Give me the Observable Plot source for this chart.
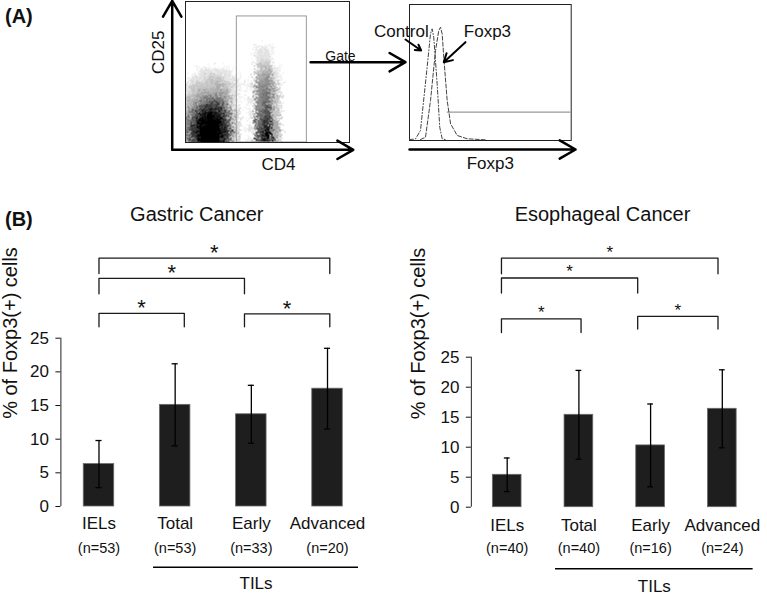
<!DOCTYPE html>
<html><head><meta charset="utf-8">
<script src="https://cdn.jsdelivr.net/npm/d3@7"></script>
<script src="https://cdn.jsdelivr.net/npm/@observablehq/plot@0.6"></script>
<style>
body{margin:0;background:#fff;}
#wrap{position:relative;width:767px;height:596px;overflow:hidden;font-family:"Liberation Sans",Arial,sans-serif;color:#111;}
.pane{position:absolute;}
.tag{position:absolute;font-weight:bold;font-size:20px;line-height:20px;}
</style></head><body>
<div id="wrap">
  <div class="tag" style="left:5px;top:6px">(A)</div>
  <div class="tag" style="left:5px;top:209px">(B)</div>
</div>
<script>
// ---------- Panel B data ----------
const categories = ["IELs", "Total", "Early", "Advanced"];
const groupMembers = ["Total", "Early", "Advanced"];
const groupLabel = "TILs";
const yLabel = "% of Foxp3(+) cells";
const yTicks = [0, 5, 10, 15, 20, 25];
const significance = "*";

const gastricTitle = "Gastric Cancer";
const gastricN = ["(n=53)", "(n=53)", "(n=33)", "(n=20)"];
const gastricMean = [6.3, 15.1, 13.7, 17.5];
const gastricSD = [3.5, 6.1, 4.3, 6.0];

const esoTitle = "Esophageal Cancer";
const esoN = ["(n=40)", "(n=40)", "(n=16)", "(n=24)"];
const esoMean = [5.4, 15.4, 10.3, 16.4];
const esoSD = [2.8, 7.4, 6.9, 6.5];

// significance brackets: pairs compared, bracket ends (category position), bar level, foot level
const comparisons = [["IELs", "Advanced"], ["IELs", "Early"], ["IELs", "Total"], ["Early", "Advanced"]];
const gastricBracketStart = [0.0, 0.0, 0.0, 1.91];
const gastricBracketEnd = [3.03, 1.91, 1.12, 3.03];
const gastricBracketLevel = [36.9, 33.9, 28.7, 28.6];
const gastricBracketFoot = [34.6, 31.6, 26.7, 26.7];
const esoBracketStart = [-0.08, -0.08, -0.08, 1.82];
const esoBracketEnd = [2.94, 1.82, 1.03, 2.94];
const esoBracketLevel = [41.5, 38.2, 31.4, 31.8];
const esoBracketFoot = [38.9, 35.7, 29.1, 29.7];

// ---------- Panel A data ----------
// CD4 x CD25 dot-plot density (0 = empty, 9 = saturated), rows from CD25 = 70 down to 0
const cd4Values = [0, 5, 10, 15, 20, 25, 30, 35, 40, 45, 50, 55, 60, 65, 70, 75, 80, 85, 90, 95, 100];
const cd25Values = [70, 65, 60, 55, 50, 45, 40, 35, 30, 25, 20, 15, 10, 5, 0];
const densityRows = [
  "000000000000000000000",
  "000000000110000000000",
  "000000000110000000000",
  "000000000220000000000",
  "001111000231000000000",
  "011221100341000000000",
  "122232101442000000000",
  "123333100452000000000",
  "234553101452000000000",
  "246774100462000000000",
  "358985201562000000000",
  "469996200573000000000",
  "479997201683000000000",
  "479997200693000000000",
  "369996201683000000000"
];
const gateCD4 = [31.3, 74.0];
const gateCD25 = [0, 89.4];

// Foxp3 histograms (intensity 0-100, count 0-100)
const controlIntensity = [0, 3.7, 6.8, 10.9, 13.0, 14.0, 15.0, 17.1, 18.7, 20.2, 22.9];
const controlCount = [0.7, 1.1, 7.4, 53.9, 78.5, 82.1, 75.9, 41.7, 9.8, 1.25, 0.4];
const foxp3Intensity = [6.8, 9.9, 13.0, 16.1, 18.1, 19.2, 20.2, 21.2, 23.3, 25.4, 29.5, 35.7, 47.0];
const foxp3Count = [0.7, 2.4, 29.4, 66.2, 80.9, 83.3, 78.4, 61.2, 29.4, 12.3, 3.7, 1.25, 0.5];
const histGateStart = 23.3;
const histGateLevel = 20.8;

// ---------- helpers ----------
const FONT = "'Liberation Sans', Arial, Helvetica, sans-serif";
const wrap = document.getElementById("wrap");
function place(node, left, top) {
  const d = document.createElement("div");
  d.className = "pane";
  d.style.left = left + "px";
  d.style.top = top + "px";
  d.appendChild(node);
  wrap.appendChild(d);
}
const baseStyle = {background: "transparent", overflow: "visible", fontFamily: FONT, fontSize: "17px", color: "#111"};

// ---------- Panel A: dot plot ----------
const dens = [];
densityRows.forEach((row, r) => [...row].forEach((ch, c) => dens.push({cd4: cd4Values[c], cd25: cd25Values[r], d: +ch})));

const dotPlot = Plot.plot({
  width: 280, height: 180, marginLeft: 45, marginRight: 71, marginTop: 1, marginBottom: 38,
  x: {domain: [0, 100], axis: null},
  y: {domain: [0, 100], axis: null},
  color: {type: "linear", domain: [0, 9], range: ["#ffffff", "#000000"]},
  style: baseStyle,
  marks: [
    Plot.raster(dens, {x: "cd4", y: "cd25", fill: "d", interpolate: "random-walk"}),
    Plot.rect([{}], {x1: gateCD4[0], x2: gateCD4[1], y1: gateCD25[0], y2: gateCD25[1], fill: "none", stroke: "#999", strokeWidth: 1}),
    Plot.frame({stroke: "#222", strokeWidth: 1}),
    Plot.arrow([{x1: -8.1, y1: -5.2, x2: -8.1, y2: 100.5}, {x1: -8.1, y1: -5.2, x2: 102.3, y2: -5.2}],
      {x1: "x1", y1: "y1", x2: "x2", y2: "y2", stroke: "#000", strokeWidth: 2.5, headLength: 11}),
    Plot.text(["CD25"], {frameAnchor: "left", dx: -27, dy: 2, rotate: -90, fontSize: 17, lineAnchor: "middle"}),
    Plot.text(["CD4"], {frameAnchor: "bottom", dx: 11, dy: 22, fontSize: 17, lineAnchor: "middle"})
  ]
});
place(dotPlot, 140, 0);

// ---------- Panel A: histogram ----------
const control = controlIntensity.map((x, i) => ({x, y: controlCount[i]}));
const foxp3 = foxp3Intensity.map((x, i) => ({x, y: foxp3Count[i]}));
const histPlot = Plot.plot({
  width: 290, height: 180, marginLeft: 109, marginRight: 19.3, marginTop: 4, marginBottom: 40,
  x: {domain: [0, 100], axis: null},
  y: {domain: [0, 100], axis: null},
  style: baseStyle,
  marks: [
    Plot.frame({stroke: "#222", strokeWidth: 1}),
    Plot.ruleY([histGateLevel], {x1: histGateStart, x2: 100, stroke: "#999", strokeWidth: 1.2}),
    Plot.line(control, {x: "x", y: "y", stroke: "#444", strokeWidth: 1, strokeDasharray: "4,2,1,2"}),
    Plot.line(foxp3, {x: "x", y: "y", stroke: "#444", strokeWidth: 1, strokeDasharray: "4,2"}),
    Plot.arrow([{x1: 0, y1: -6.6, x2: 102.7, y2: -6.6}], {x1: "x1", y1: "y1", x2: "x2", y2: "y2", stroke: "#000", strokeWidth: 2.5, headLength: 11}),
    Plot.arrow([{x1: -61.2, y1: 57.6, x2: -2.5, y2: 57.6}], {x1: "x1", y1: "y1", x2: "x2", y2: "y2", stroke: "#000", strokeWidth: 2.5, headLength: 11}),
    Plot.arrow([{x1: -2.5, y1: 74.3, x2: 7.2, y2: 66.2}, {x1: 34.6, y1: 72.3, x2: 21.2, y2: 57.6}],
      {x1: "x1", y1: "y1", x2: "x2", y2: "y2", stroke: "#000", strokeWidth: 2, headLength: 7}),
    Plot.text(["Gate"], {x: -42.7, y: 58.1, fontSize: 14, lineAnchor: "bottom"}),
    Plot.text(["Control"], {x: 11.9, y: 76, fontSize: 17, lineAnchor: "bottom", textAnchor: "end"}),
    Plot.text(["Foxp3"], {x: 33.6, y: 76, fontSize: 17, lineAnchor: "bottom", textAnchor: "start"}),
    Plot.text(["Foxp3"], {frameAnchor: "bottom", dy: 23, fontSize: 17, lineAnchor: "middle"})
  ]
});
place(histPlot, 300, 0);

// ---------- Panel B: bar charts ----------
function barPanel(cfg) {
  const rows = categories.map((c, i) => ({cat: c, i, mean: cfg.mean[i], sd: cfg.sd[i], n: cfg.n[i]}));
  const brackets = comparisons.map(([a, b], k) => ({a, b, x1: cfg.bStart[k], x2: cfg.bEnd[k], level: cfg.bLevel[k], foot: cfg.bFoot[k]}));
  const path = brackets.flatMap((b, k) => [
    {k, x: b.x1, y: b.foot}, {k, x: b.x1, y: b.level}, {k, x: b.x2, y: b.level}, {k, x: b.x2, y: b.foot}
  ]);
  const gi = groupMembers.map(m => categories.indexOf(m));
  const g1 = Math.min(...gi) - cfg.padL, g2 = Math.max(...gi) + cfg.padR;
  const half = 0.2, cap = 0.04;
  return Plot.plot({
    width: cfg.width, height: 416,
    marginLeft: cfg.mL, marginRight: cfg.mR, marginTop: cfg.mT, marginBottom: cfg.mB,
    x: {domain: [-0.5, 3.5], axis: null},
    y: {domain: [0, 25], axis: null},
    style: baseStyle,
    marks: [
      Plot.rect(rows, {x1: d => d.i - half, x2: d => d.i + half, y1: 0, y2: "mean", fill: "#1e1e1e", stroke: "#6a6a6a", strokeWidth: 0.8}),
      Plot.ruleX(rows, {x: "i", y1: d => d.mean - d.sd, y2: d => d.mean + d.sd, stroke: "#000", strokeWidth: 1.3}),
      Plot.ruleY(rows, {y: d => d.mean + d.sd, x1: d => d.i - cap, x2: d => d.i + cap, stroke: "#000", strokeWidth: 1.3}),
      Plot.ruleY(rows, {y: d => d.mean - d.sd, x1: d => d.i - cap, x2: d => d.i + cap, stroke: "#000", strokeWidth: 1.3}),
      Plot.ruleX([-0.5], {y1: 0, y2: 25, stroke: "#222", strokeWidth: 1}),
      Plot.axisY({ticks: yTicks, tickSize: 5, tickPadding: 7, fontSize: 17, label: null, tickFormat: d => String(d)}),
      Plot.line(path, {x: "x", y: "y", z: "k", stroke: "#1a1a1a", strokeWidth: 1.3}),
      Plot.text(brackets, {x: d => (d.x1 + d.x2) / 2, y: "level", text: () => significance, fontSize: cfg.starSize, dy: cfg.starDy, lineAnchor: "middle"}),
      Plot.text(rows, {x: "i", text: "cat", frameAnchor: "bottom", dy: cfg.catDy, fontSize: 17, lineAnchor: "middle"}),
      Plot.text(rows, {x: "i", text: "n", frameAnchor: "bottom", dy: cfg.nDy, fontSize: 14.5, lineAnchor: "middle"}),
      Plot.ruleY([0], {x1: g1, x2: g2, dy: cfg.groupDy, stroke: "#000", strokeWidth: 1.6}),
      Plot.text([groupLabel], {x: (g1 + g2) / 2, frameAnchor: "bottom", dy: cfg.groupTextDy, fontSize: 17, lineAnchor: "middle"}),
      Plot.text([cfg.title], {frameAnchor: "top-left", dx: cfg.titleDx, dy: cfg.titleDy, fontSize: 20, textAnchor: "middle", lineAnchor: "bottom"}),
      Plot.text([yLabel], {frameAnchor: "top-left", dx: cfg.labDx, dy: cfg.labDy, rotate: -90, fontSize: 20, textAnchor: "middle", lineAnchor: "middle"})
    ]
  });
}

place(barPanel({
  width: 380, mL: 60.4, mR: 14.9, mT: 157.7, mB: 90,
  mean: gastricMean, sd: gastricSD, n: gastricN, title: gastricTitle,
  bStart: gastricBracketStart, bEnd: gastricBracketEnd, bLevel: gastricBracketLevel, bFoot: gastricBracketFoot,
  padL: 0.284, padR: 0.407, starSize: 22, starDy: -5,
  catDy: 17, nDy: 42, groupDy: 60.7, groupTextDy: 77,
  titleDx: 135.9, titleDy: -117, labDx: -50.4, labDy: -5.2
}), 0, 180);

place(barPanel({
  width: 387, mL: 90.85, mR: 9.35, mT: 176.7, mB: 89.3,
  mean: esoMean, sd: esoSD, n: esoN, title: esoTitle,
  bStart: esoBracketStart, bEnd: esoBracketEnd, bLevel: esoBracketLevel, bFoot: esoBracketFoot,
  padL: 0.326, padR: 0.43, starSize: 17, starDy: -6,
  catDy: 18.3, nDy: 41.6, groupDy: 61.6, groupTextDy: 79.3,
  titleDx: 131.15, titleDy: -136, labDx: -52.85, labDy: -23.7
}), 380, 180);
</script>
</body></html>
